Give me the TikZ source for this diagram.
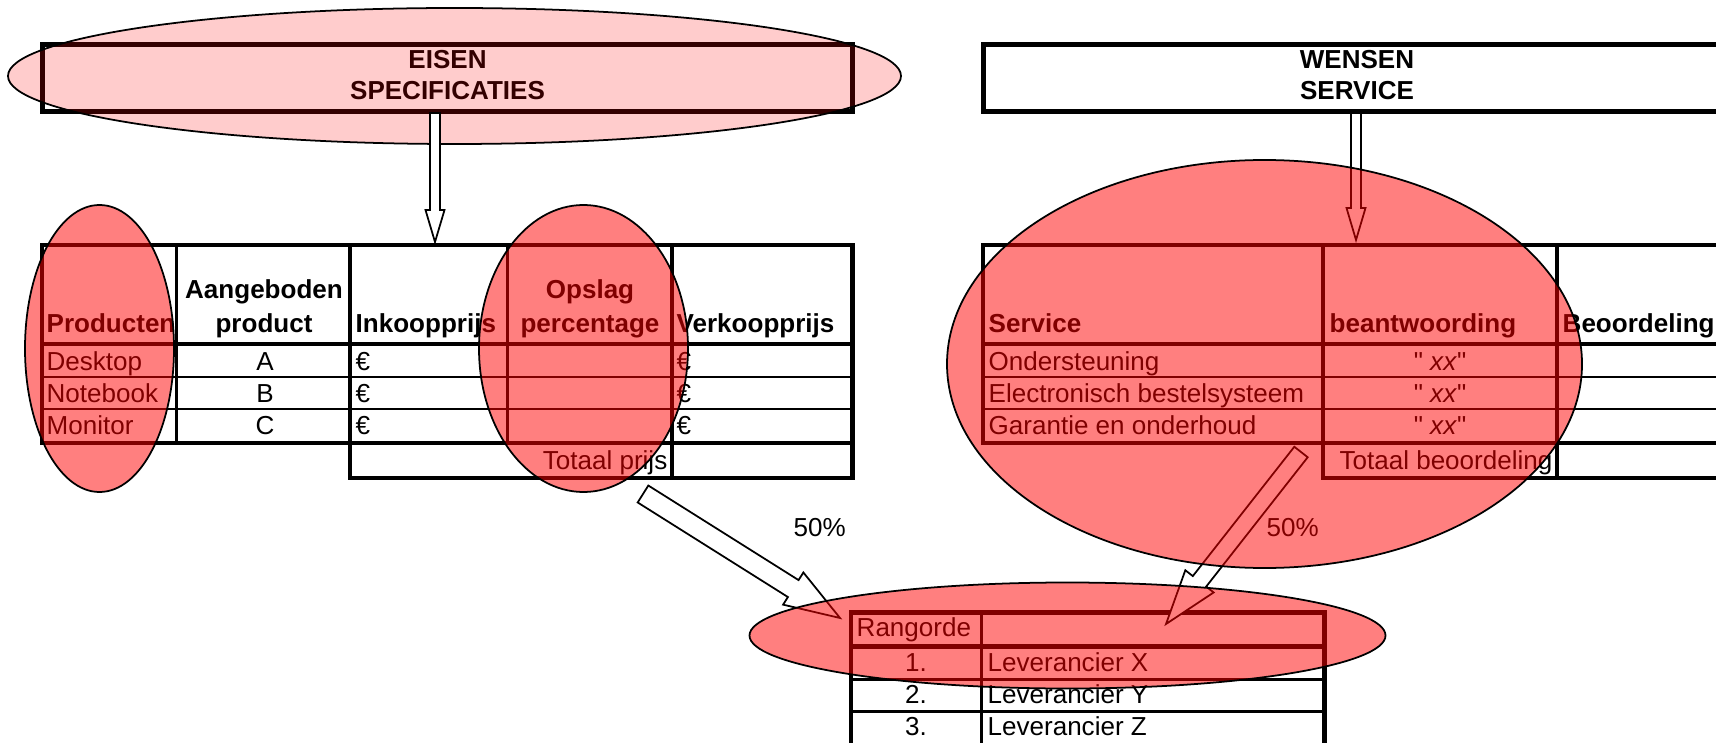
\documentclass[tikz,border=0pt]{standalone}
\usepackage{fontspec}
\setmainfont{Liberation Sans}
\usetikzlibrary{calc}
\tikzstyle{every node}=[font=\fontsize{7.4}{8.8}\selectfont, inner sep=0pt]
\tikzstyle{head}=[font=\fontsize{7.4}{8.8}\selectfont\bfseries]
\tikzstyle{thick line}=[line width=1.4pt]
\tikzstyle{mid line}=[line width=0.9pt]
\tikzstyle{thin line}=[line width=0.75pt]
\tikzstyle{titlebox}=[draw, rectangle, line width=1.4pt, minimum height=0.666cm]
\tikzstyle{spot}=[draw=black, line width=0.5pt, fill=red, fill opacity=0.5]
\tikzstyle{pale spot}=[draw=black, line width=0.5pt, fill=red, fill opacity=0.2]
\tikzset{fat arrow/.style n args={3}{draw=black, line width=0.5pt, fill=white,
  to path={let \p1=(\tikztostart), \p2=(\tikztotarget),
    \n1={atan2(\y2-\y1,\x2-\x1)}, \n2={veclen(\x2-\x1,\y2-\y1)} in
    ($(\p1)+(\n1+90:#1)$)
    -- ($(\p1)+(\n1:{\n2-#3})+(\n1+90:#1)$)
    -- ($(\p1)+(\n1:{\n2-#3})+(\n1+90:#2)$)
    -- (\p2)
    -- ($(\p1)+(\n1:{\n2-#3})+(\n1-90:#2)$)
    -- ($(\p1)+(\n1:{\n2-#3})+(\n1-90:#1)$)
    -- ($(\p1)+(\n1-90:#1)$) -- cycle}}}

\begin{document}
\begin{tikzpicture}[x=0.01cm, y=-0.01cm]
  \useasboundingbox (0,0) rectangle (1716,743);

  % eisen: specificaties
  \node[titlebox, minimum width=8.09cm] (eisen) at (447.5,78) {};
  \node[head, anchor=base] (eisen1) at (447.5,68.5) {EISEN};
  \node[head, anchor=base] (eisen2) at (447.5,100) {SPECIFICATIES};

  \draw[thick line] (42,245) rectangle (852.5,443);
  \draw[thick line] (42,344) -- (852.5,344);
  \foreach \y in {377,409} \draw[thin line] (42,\y) -- (852.5,\y);
  \foreach \x in {176.6,350,507.4,672} \draw[mid line] (\x,245) -- (\x,443);
  \draw[thick line] (350,443) -- (350,478) -- (852.5,478) -- (852.5,443);
  \draw[mid line] (672,443) -- (672,478);

  \node[head, anchor=base west] (producten) at (46,333) {Producten};
  \node[head, anchor=base] (aangeb1) at (264,299) {Aangeboden};
  \node[head, anchor=base] (aangeb2) at (264,333) {product};
  \node[head, anchor=base west] (inkoop) at (355,333) {Inkoopprijs};
  \node[head, anchor=base] (opslag1) at (590,299) {Opslag};
  \node[head, anchor=base] (opslag2) at (590,333) {percentage};
  \node[head, anchor=base west] (verkoop) at (676,333) {Verkoopprijs};
  \foreach \name/\item [count=\i] in {Desktop/A, Notebook/B, Monitor/C} {
    \node[anchor=base west] (prod\i) at (46,338+32*\i) {\name};
    \node[anchor=base] (item\i) at (265,338+32*\i) {\item};
    \node[anchor=base west] (buy\i) at (355,338+32*\i) {€};
    \node[anchor=base west] (sell\i) at (676,338+32*\i) {€};
  }
  \node[anchor=base east] (totprijs) at (668,469) {Totaal prijs};

  % wensen: service
  \node[titlebox, minimum width=7.49cm] (wensen) at (1358.5,78) {};
  \node[head, anchor=base] (wensen1) at (1357,68.5) {WENSEN};
  \node[head, anchor=base] (wensen2) at (1357,100) {SERVICE};

  \draw[thick line] (1733,245) -- (983,245) -- (983,443) -- (1733,443);
  \draw[thick line] (983,344) -- (1733,344);
  \foreach \y in {377,409} \draw[thin line] (983,\y) -- (1733,\y);
  \foreach \x in {1323,1557} \draw[mid line] (\x,245) -- (\x,443);
  \draw[thick line] (1323,443) -- (1323,478) -- (1733,478);
  \draw[mid line] (1557,443) -- (1557,478);

  \node[head, anchor=base west] (service) at (988,333) {Service};
  \node[head, anchor=base west] (beantw) at (1329,333) {beantwoording};
  \node[head, anchor=base west] (beoord) at (1562,333) {Beoordeling};
  \foreach \name [count=\i] in {Ondersteuning, Electronisch bestelsysteem, Garantie en onderhoud} {
    \node[anchor=base west] (serv\i) at (988,338+32*\i) {\name};
    \node[anchor=base] (answer\i) at (1440,338+32*\i) {\textquotedbl{} \textit{xx}\textquotedbl};
  }
  \node[anchor=base east] (totbeoord) at (1553,469) {Totaal beoordeling};

  % rangorde
  \draw[thick line] (851,750) -- (851,612.7) -- (1324.5,612.7) -- (1324.5,750);
  \draw[thick line] (851,646.7) -- (1324.5,646.7);
  \foreach \y in {679.3,711.7} \draw[thin line] (851,\y) -- (1324.5,\y);
  \draw[mid line] (981.6,612.7) -- (981.6,750);
  \node[anchor=base west] (rangorde) at (856,636) {Rangorde};
  \foreach \who [count=\i] in {X,Y,Z} {
    \node[anchor=base] (rank\i) at (916,639+32*\i) {\i.};
    \node[anchor=base west] (lev\i) at (987,639+32*\i) {Leverancier \who};
  }
  \node[anchor=base west] (half1) at (793,536) {50\%};
  \node[anchor=base west] (half2) at (1266,536) {50\%};

  \draw[pale spot] (454.5,76) ellipse [x radius=446.5, y radius=68];

  % arrows
  \coordinate (spec out) at (435,113);
  \coordinate (spec in) at (435,242);
  \coordinate (serv out) at (1356,113);
  \coordinate (serv in) at (1356,240);
  \coordinate (price out) at (643,494);
  \coordinate (rank left) at (840,618);
  \coordinate (score out) at (1301,452);
  \coordinate (rank right) at (1166,624);
  \draw[fat arrow={0.05cm}{0.095cm}{0.32cm}] (spec out) to (spec in);
  \draw[fat arrow={0.05cm}{0.095cm}{0.32cm}] (serv out) to (serv in);
  \draw[fat arrow={0.1cm}{0.19cm}{0.55cm}] (price out) to (rank left);
  \draw[fat arrow={0.085cm}{0.18cm}{0.54cm}] (score out) to (rank right);

  \draw[spot] (99.5,348.5) ellipse [x radius=74.5, y radius=143.5];
  \draw[spot] (583.5,348.5) ellipse [x radius=104.5, y radius=143.5];
  \draw[spot] (1264.5,364) ellipse [x radius=317.5, y radius=204];
  \draw[spot] (1067.5,635.5) ellipse [x radius=318, y radius=53];
\end{tikzpicture}
\end{document}
